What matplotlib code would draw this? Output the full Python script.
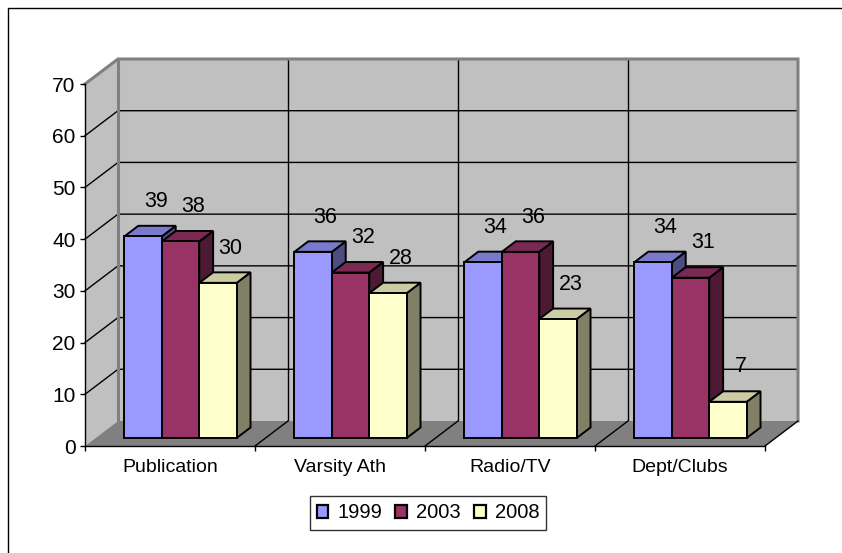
import matplotlib
matplotlib.use("Agg")
import matplotlib.pyplot as plt
from matplotlib.patches import Polygon, Patch
from matplotlib.lines import Line2D
import numpy as np

categories = ["Publication", "Varsity Ath", "Radio/TV", "Dept/Clubs"]
series_names = ["1999", "2003", "2008"]
values_1999 = [39, 36, 34, 34]
values_2003 = [38, 32, 36, 31]
values_2008 = [30, 28, 23, 7]
y_ticks = [0, 10, 20, 30, 40, 50, 60, 70]

series_values = [values_1999, values_2003, values_2008]
front_colors = ["#9999FF", "#993366", "#FFFFCC"]
top_colors = ["#7A7ACC", "#7A2952", "#CCCCA3"]
side_colors = ["#4D4D80", "#4D1A33", "#808066"]

plt.rcParams["font.family"] = ["Liberation Sans", "DejaVu Sans"]

W, H = 842, 553
fig = plt.figure(figsize=(W / 100, H / 100), dpi=100)
fig.patch.set_facecolor("white")

ax = fig.add_axes([85 / W, (H - 446) / H, 680 / W, 362 / H])
ymax = 70
ncat = len(categories)
ax.set_xlim(0, ncat)
ax.set_ylim(0, ymax)
ax.set_facecolor("none")

# oblique depth offset (data units): full depth of the plot box
DX = 33 / 170.0
DY = 25 / (362.0 / ymax)


def P(x, y, z):
    return (x + z * DX, y + z * DY)


wall = "#C0C0C0"
edge_gray = "#808080"

# left wall
ax.add_patch(Polygon([P(0, 0, 0), P(0, 0, 1), P(0, ymax, 1), P(0, ymax, 0)],
                     closed=True, facecolor=wall, edgecolor="none", clip_on=False, zorder=0))
# back wall
ax.add_patch(Polygon([P(0, 0, 1), P(ncat, 0, 1), P(ncat, ymax, 1), P(0, ymax, 1)],
                     closed=True, facecolor=wall, edgecolor="none", clip_on=False, zorder=0))
# floor
ax.add_patch(Polygon([P(0, 0, 0), P(ncat, 0, 0), P(ncat, 0, 1), P(0, 0, 1)],
                     closed=True, facecolor=edge_gray, edgecolor="none", clip_on=False, zorder=0.5))

# gridlines on walls
for v in y_ticks[1:-1]:
    x0, y0 = P(0, v, 0)
    x1, y1 = P(0, v, 1)
    x2, y2 = P(ncat, v, 1)
    ax.plot([x0, x1, x2], [y0, y1, y2], color="black", lw=1.0, clip_on=False, zorder=0.3)
for k in range(1, ncat):
    xa, ya = P(k, 0, 1)
    xb, yb = P(k, ymax, 1)
    ax.plot([xa, xb], [ya, yb], color="black", lw=1.0, clip_on=False, zorder=0.3)
    xc, yc = P(k, 0, 0)
    ax.plot([xc, xa], [yc, ya], color="black", lw=1.0, clip_on=False, zorder=0.6)

# wall edges (gray, thick)
pts = [P(0, ymax, 0), P(0, ymax, 1), P(ncat, ymax, 1), P(ncat, 0, 1)]
ax.plot([p[0] for p in pts], [p[1] for p in pts], color=edge_gray, lw=2.2,
        clip_on=False, zorder=0.4, solid_joinstyle="miter")
pts = [P(0, 0, 1), P(0, ymax, 1)]
ax.plot([p[0] for p in pts], [p[1] for p in pts], color=edge_gray, lw=2.2, clip_on=False, zorder=0.4)
# floor right edge
pts = [P(ncat, 0, 0), P(ncat, 0, 1)]
ax.plot([p[0] for p in pts], [p[1] for p in pts], color="black", lw=1.0, clip_on=False, zorder=0.6)

# bars
bw = 0.22
start = 0.17
z0, z1 = 0.32, 0.74
ec = "black"
lw = 1.4
for c in range(ncat):
    for i, vals in enumerate(series_values):
        v = vals[c]
        xl = c + start + i * bw
        xr = xl + bw
        front = [P(xl, 0, z0), P(xr, 0, z0), P(xr, v, z0), P(xl, v, z0)]
        top = [P(xl, v, z0), P(xr, v, z0), P(xr, v, z1), P(xl, v, z1)]
        side = [P(xr, 0, z0), P(xr, 0, z1), P(xr, v, z1), P(xr, v, z0)]
        zb = 2 + c * 3 + i
        for poly, col in ((side, side_colors[i]), (top, top_colors[i]), (front, front_colors[i])):
            ax.add_patch(Polygon(poly, closed=True, facecolor=col, edgecolor=ec, lw=lw,
                                 joinstyle="miter", clip_on=False, zorder=zb))
        lx, ly = P((xl + xr) / 2, v, z1)
        ax.annotate(str(v), xy=(lx, ly), xytext=(-1, 17.5), textcoords="offset points",
                    ha="center", va="center", fontsize=15.5, color="black",
                    annotation_clip=False, zorder=40)

# axes spines & ticks
for s in ("top", "right"):
    ax.spines[s].set_visible(False)
for s in ("left", "bottom"):
    ax.spines[s].set_color("black")
    ax.spines[s].set_linewidth(1.0)
    ax.spines[s].set_zorder(30)

ax.set_yticks(y_ticks)
ax.set_yticklabels([str(t) for t in y_ticks])
ax.tick_params(axis="y", which="major", direction="out", length=3.8, width=1.0,
               pad=3, labelsize=15, colors="black")
ax.set_xticks(np.arange(0, ncat + 1))
ax.set_xticklabels([])
ax.set_xticks(np.arange(ncat) + 0.5, minor=True)
ax.set_xticklabels(categories, minor=True)
ax.tick_params(axis="x", which="major", direction="out", length=3.8, width=1.0)
ax.tick_params(axis="x", which="minor", length=0, pad=9, labelsize=14, colors="black")

# legend
handles = [Patch(facecolor=front_colors[i], edgecolor="black", lw=1.6, label=series_names[i])
           for i in range(3)]
leg = fig.legend(handles=handles, loc="center", bbox_to_anchor=(428 / W, 1 - 513 / H),
                 ncol=3, fontsize=14.5, frameon=True, fancybox=False, shadow=False,
                 handlelength=0.58, handleheight=0.58, handletextpad=0.45,
                 columnspacing=0.65, borderpad=0.35, borderaxespad=0)
leg.get_frame().set_edgecolor("black")
leg.get_frame().set_linewidth(1.0)

# outer chart-area border (top and left edges visible)
fig.add_artist(Line2D([8 / W, 8 / W, 1.0], [0.0, 1 - 8 / H, 1 - 8 / H],
                      transform=fig.transFigure, color="black", lw=1.0))

fig.savefig("out.png", dpi=100)
